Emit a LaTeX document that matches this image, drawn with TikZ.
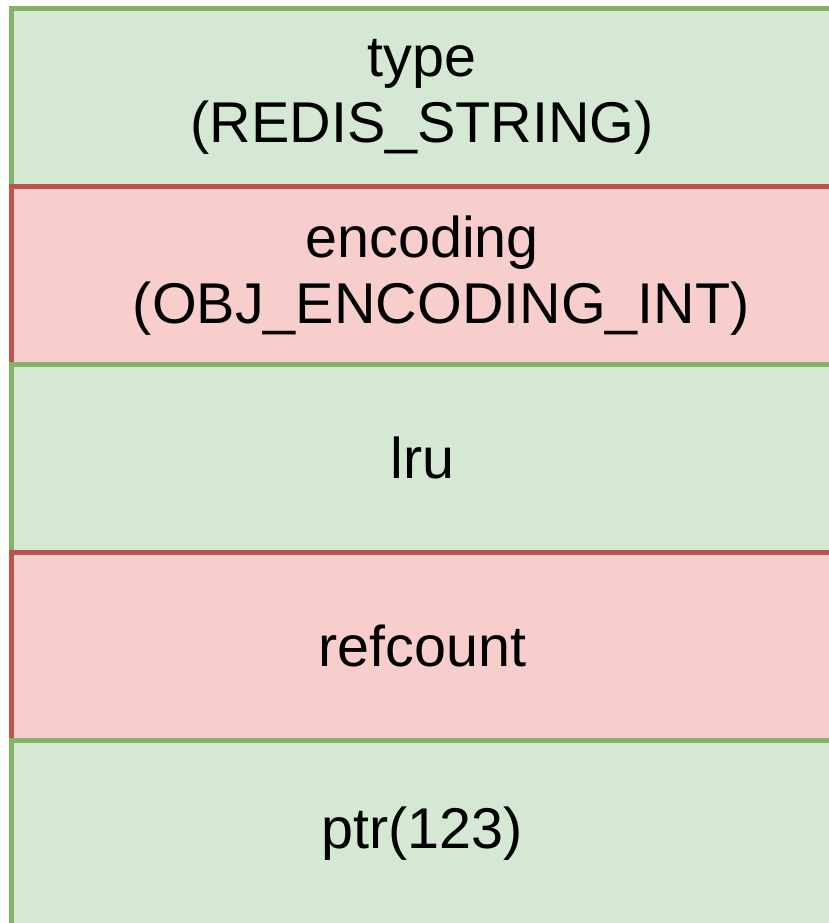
\documentclass[tikz,border=0pt]{standalone}
\usepackage{fontspec}
\setmainfont{Liberation Sans}
\definecolor{gfill}{HTML}{D5E8D4}
\definecolor{gline}{HTML}{82B366}
\definecolor{rfill}{HTML}{F8CECC}
\definecolor{rline}{HTML}{B85450}
\tikzset{
  field/.style={rectangle, inner sep=0pt, anchor=north west, minimum width=411pt,
    line width=2.25pt, align=center,
    font=\fontsize{28.75}{33}\selectfont},
  greenfield/.style={field, fill=gfill, draw=gline},
  redfield/.style={field, fill=rfill, draw=rline},
}
\begin{document}
\begin{tikzpicture}[x=0.5pt,y=-0.5pt]
  \useasboundingbox (0,0) rectangle (829,923);
  \clip (0,0) rectangle (829,923);
  % robj fields, stacked top to bottom
  \node[greenfield, minimum height=89pt] (type) at (9,6) {type\\(REDIS\_STRING)};
  \node[redfield, minimum height=89pt] (encoding) at (9,184)
    {encoding\\\hspace*{19pt}(OBJ\_ENCODING\_INT)};
  \node[greenfield, minimum height=94pt] (lru) at (9,362) {lru};
  \node[redfield, minimum height=94pt] (refcount) at (9,550) {refcount};
  \node[greenfield, minimum height=93pt] (ptr) at (9,738) {ptr(123)};
\end{tikzpicture}
\end{document}
